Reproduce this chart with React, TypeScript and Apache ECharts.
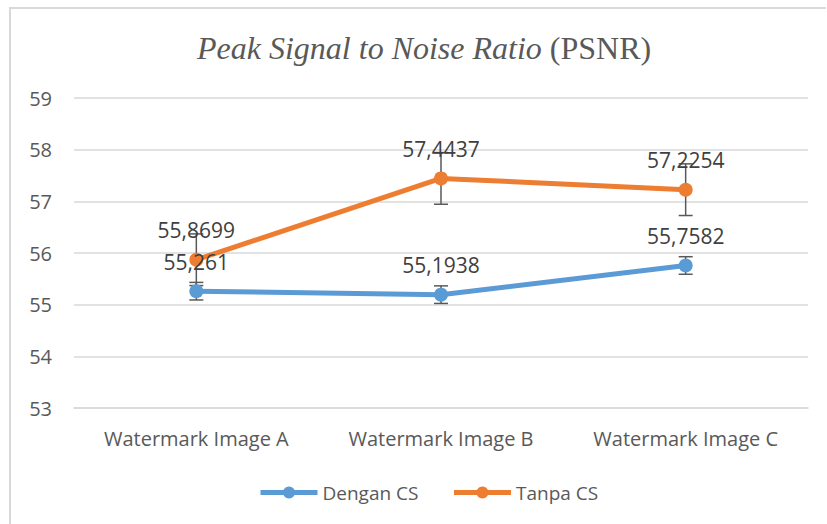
import React, { useEffect, useRef } from "react";
import * as echarts from "echarts";

const categories = ["Watermark Image A", "Watermark Image B", "Watermark Image C"];
const denganCS = [55.261, 55.1938, 55.7582];
const tanpaCS = [55.8699, 57.4437, 57.2254];
const denganErr = [0.17, 0.17, 0.17];
const tanpaErr = [0.5, 0.5, 0.5];
const seriesNames = ["Dengan CS", "Tanpa CS"];
const colors = ["#5B9BD5", "#ED7D31"];

const FONT = "Open Sans";
const GRAY = "#595959";

function errorSeries(values: number[], errs: number[], name: string) {
  return {
    type: "custom",
    name: name + " err",
    z: 1,
    silent: true,
    encode: { x: 0, y: 1 },
    data: values.map((v, i) => [i, v, errs[i]]),
    renderItem: (params: any, api: any) => {
      const i = api.value(0);
      const v = api.value(1);
      const e = api.value(2);
      const top = api.coord([i, v + e]);
      const bot = api.coord([i, v - e]);
      const hw = 7;
      const style = { stroke: GRAY, lineWidth: 1.5 };
      return {
        type: "group",
        children: [
          { type: "line", shape: { x1: top[0], y1: top[1], x2: bot[0], y2: bot[1] }, style },
          { type: "line", shape: { x1: top[0] - hw, y1: top[1], x2: top[0] + hw, y2: top[1] }, style },
          { type: "line", shape: { x1: bot[0] - hw, y1: bot[1], x2: bot[0] + hw, y2: bot[1] }, style },
        ],
      };
    },
  };
}

function lineSeries(name: string, data: number[], color: string) {
  return {
    type: "line",
    name,
    z: 3,
    data,
    symbol: "circle",
    symbolSize: 14,
    color,
    lineStyle: { width: 5, color },
    itemStyle: { color },
    label: {
      show: true,
      position: "top",
      distance: 12,
      color: "#404040",
      fontFamily: FONT,
      fontSize: 21,
      formatter: (p: any) => String(p.value).replace(".", ","),
    },
  };
}

export default function App() {
  const ref = useRef<HTMLDivElement>(null);
  useEffect(() => {
    if (!ref.current) return;
    const chart = echarts.init(ref.current, undefined, { renderer: "svg" });
    chart.setOption({
      animation: false,
      backgroundColor: "#ffffff",
      title: {
        left: 192,
        top: 27,
        text: "{i|Peak Signal to Noise Ratio }{n|(PSNR)}",
        textStyle: {
          fontWeight: "normal",
          rich: {
            i: { fontFamily: "Liberation Serif", fontStyle: "italic", fontWeight: "normal", fontSize: 32, color: GRAY },
            n: { fontFamily: "Liberation Serif", fontWeight: "normal", fontSize: 32, color: GRAY },
          },
        },
      },
      graphic: [
        { type: "line", shape: { x1: 9, y1: 8, x2: 826, y2: 8 }, style: { stroke: "#D9D9D9", lineWidth: 2 } },
        { type: "line", shape: { x1: 10, y1: 8, x2: 10, y2: 524 }, style: { stroke: "#D9D9D9", lineWidth: 2 } },
      ],
      legend: {
        data: seriesNames,
        bottom: 17,
        left: 253,
        itemWidth: 57,
        itemHeight: 15,
        itemGap: 33,
        lineStyle: { width: 5 },
        textStyle: { fontFamily: FONT, fontSize: 19, color: GRAY, padding: [0, 0, 0, 0] },
      },
      grid: { left: 74, right: 19, top: 98, bottom: 116 },
      xAxis: {
        type: "category",
        data: categories,
        boundaryGap: true,
        axisLine: { lineStyle: { color: "#D9D9D9", width: 1.5 } },
        axisTick: { show: false },
        axisLabel: { fontFamily: FONT, fontSize: 20, color: GRAY, margin: 20 },
      },
      yAxis: {
        type: "value",
        min: 53,
        max: 59,
        interval: 1,
        axisLine: { show: false },
        axisTick: { show: false },
        splitLine: { lineStyle: { color: "#D9D9D9", width: 1.5 } },
        axisLabel: { fontFamily: FONT, fontSize: 20, color: GRAY, margin: 22 },
      },
      series: [
        errorSeries(denganCS, denganErr, seriesNames[0]),
        errorSeries(tanpaCS, tanpaErr, seriesNames[1]),
        lineSeries(seriesNames[0], denganCS, colors[0]),
        lineSeries(seriesNames[1], tanpaCS, colors[1]),
      ],
    });
    return () => chart.dispose();
  }, []);
  return <div ref={ref} style={{ position: "fixed", left: 0, top: 0, width: 827, height: 524 }} />;
}
